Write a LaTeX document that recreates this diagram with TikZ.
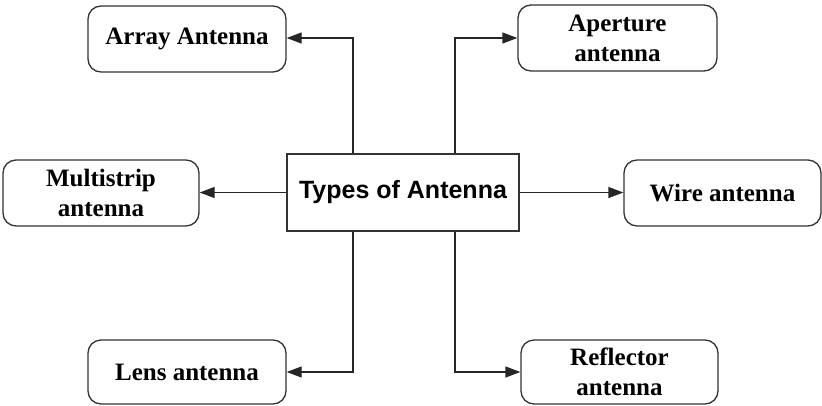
\documentclass[tikz,border=0pt]{standalone}
\usepackage{fontspec}
\setmainfont{Liberation Serif}
\newfontfamily\arialfont{Liberation Sans}
\usetikzlibrary{arrows.meta}
\begin{document}
\begin{tikzpicture}[x=1pt,y=-1pt,
  leaf/.style={draw=black!80, line width=1.3pt, rounded corners=13pt, inner sep=0pt,
    align=center, font=\fontsize{25}{30}\selectfont\bfseries},
  hub/.style={draw=black!80, line width=1.3pt, inner sep=0pt, align=center,
    font=\arialfont\fontsize{25}{30}\selectfont\bfseries},
  arr/.style={draw=black!85, line width=1.3pt, -{Triangle[length=15pt,width=11pt]}}]
\useasboundingbox (0,0) rectangle (822,405);
\node[hub, minimum width=232pt, minimum height=77pt] (c) at (403,192.5) {Types of Antenna};
\node[leaf, minimum width=198pt, minimum height=66pt] (arr1) at (187,39) {Array Antenna};
\node[leaf, minimum width=199pt, minimum height=66pt] (ape) at (617.5,38) {Aperture\\antenna};
\node[leaf, minimum width=196pt, minimum height=66pt] (mul) at (101,193) {Multistrip\\antenna};
\node[leaf, minimum width=197pt, minimum height=66pt] (wir) at (722.5,193) {Wire antenna};
\node[leaf, minimum width=198pt, minimum height=64pt] (len) at (187,372) {Lens antenna};
\node[leaf, minimum width=197pt, minimum height=64pt] (ref) at (619.5,372) {Reflector\\antenna};
\coordinate (tl) at (353,38);
\coordinate (tr) at (455,38);
\coordinate (bl) at (353,372);
\coordinate (br) at (455,372);
\draw[arr] (tl |- c.north) -- (tl) -- (arr1.east |- tl);
\draw[arr] (tr |- c.north) -- (tr) -- (ape.west |- tr);
\draw[arr] (c.west) -- (mul.east |- c.west);
\draw[arr] (c.east) -- (wir.west |- c.east);
\draw[arr] (bl |- c.south) -- (bl) -- (len.east |- bl);
\draw[arr] (br |- c.south) -- (br) -- (ref.west |- br);
\end{tikzpicture}
\end{document}
